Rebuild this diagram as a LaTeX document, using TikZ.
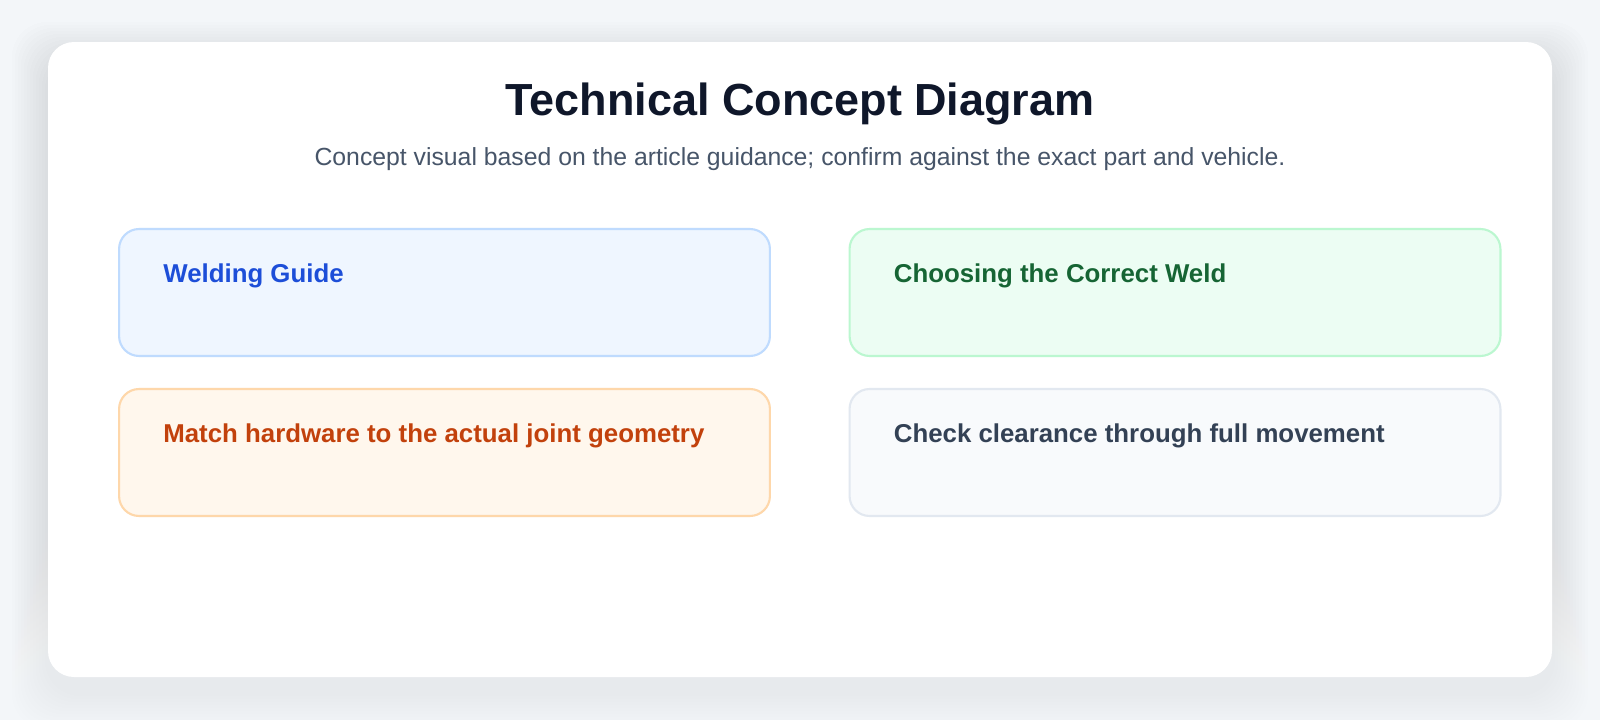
\documentclass[tikz,border=0pt]{standalone}
\usepackage{fontspec}
\setmainfont{Liberation Sans}
\usetikzlibrary{positioning}

\definecolor{pagebg}{HTML}{F3F6F9}
\definecolor{shade}{HTML}{64748B}
\definecolor{titlec}{HTML}{0F172A}
\definecolor{subc}{HTML}{475569}
\definecolor{bluefill}{HTML}{EFF6FF}
\definecolor{blueline}{HTML}{BFDBFE}
\definecolor{bluetext}{HTML}{1D4ED8}
\definecolor{greenfill}{HTML}{ECFDF3}
\definecolor{greenline}{HTML}{BBF7D0}
\definecolor{greentext}{HTML}{166534}
\definecolor{orangefill}{HTML}{FFF7ED}
\definecolor{orangeline}{HTML}{FED7AA}
\definecolor{orangetext}{HTML}{C2410C}
\definecolor{slatefill}{HTML}{F8FAFC}
\definecolor{slateline}{HTML}{E2E8F0}
\definecolor{slatetext}{HTML}{334155}

\begin{document}
\begin{tikzpicture}
  [x=0.02cm,y=-0.02cm,every node/.style={inner sep=0pt},
   panel/.style={draw,line width=1.2pt,rounded corners=0.4cm,
     minimum width=13.02cm,minimum height=2.54cm},
   paneltext/.style={anchor=base west,font=\fontsize{14.7}{17}\selectfont\bfseries}]
  \useasboundingbox[fill=pagebg] (0,0) rectangle (1600,720);

  % card and its soft shadow
  \foreach \s in {3,6,...,36}
    \fill[shade,opacity=0.0045,rounded corners=0.7cm]
      (48-\s,42+16-\s) rectangle (1552+\s,677+16+\s);
  \fill[white,rounded corners=0.52cm] (48,42) rectangle (1552,677);

  \node[anchor=base,text=titlec,font=\fontsize{25.6}{30}\selectfont\bfseries]
    (title) at (800,115) {Technical Concept Diagram};
  \node[anchor=base,text=subc,font=\fontsize{14.1}{17}\selectfont]
    (sub) at (800,165) {Concept visual based on the article guidance; confirm against the exact part and vehicle.};

  \foreach \n/\cx/\cy/\c/\t in {b1/444.5/292.5/blue/Welding Guide,
      b2/1175/292.5/green/Choosing the Correct Weld,
      b3/444.5/452.5/orange/Match hardware to the actual joint geometry,
      b4/1175/452.5/slate/Check clearance through full movement}
  {
    \node[panel,draw=\c line,fill=\c fill] (\n) at (\cx,\cy) {};
    \node[paneltext,text=\c text] (\n t) at ([xshift=0.9cm,yshift=-1.1cm]\n.north west) {\t};
  }

\end{tikzpicture}
\end{document}
